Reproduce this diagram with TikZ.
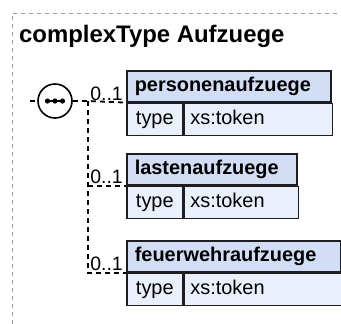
\documentclass[tikz,border=0pt]{standalone}
\usepackage{fontspec}
\setmainfont{Liberation Sans}
\usetikzlibrary{positioning,calc}
\definecolor{FrameGrey}{HTML}{9A9A9A}
\definecolor{HeadBlue}{HTML}{D1DEF5}
\definecolor{RowBlue}{HTML}{E9F0FB}
\definecolor{EdgeDark}{HTML}{1E1E1E}
\tikzset{head/.style={draw=EdgeDark,line width=1.6bp,fill=HeadBlue,anchor=north west,
 inner xsep=8bp,inner ysep=0pt,minimum height=31bp,text height=14.5bp,text depth=4bp,
 align=left,font=\fontsize{20}{22}\selectfont\bfseries},
 cell/.style={draw=EdgeDark,line width=1.6bp,fill=RowBlue,anchor=north west,
 inner xsep=6bp,inner ysep=0pt,minimum height=32bp,text height=14.5bp,text depth=4bp,
 align=left,font=\fontsize{20}{22}\selectfont},
 mult/.style={anchor=south east,inner sep=0pt,font=\fontsize{19.5}{21}\selectfont},
 link/.style={draw=black,line width=1.8bp,dash pattern=on 5bp off 4bp},
 frame/.style={draw=FrameGrey,line width=1bp,dash pattern=on 4bp off 4bp}}

\begin{document}
\begin{tikzpicture}[x=1bp,y=-1bp]
\useasboundingbox (0,0) rectangle (341,324);
% outer frame of the complex type, cut off at right and bottom
\draw[frame] (12,324)--(12,13)--(341,13);
\node[anchor=base west,inner sep=0pt,font=\fontsize{24}{26}\selectfont\bfseries] (ttl) at (19,42) {complexType Aufzuege};
% child elements: header row and type row
\node[head,text width=188bp] (ph) at (126,70) {personenaufzuege};
\node[cell,minimum width=56bp] (pt) at (ph.south west) {type};
\node[cell,text width=136bp] (pv) at (pt.north east) {xs:token};
\node[head,text width=154bp] (lh) at (126,153) {lastenaufzuege};
\node[cell,minimum width=56bp] (lt) at (lh.south west) {type};
\node[cell,text width=102bp] (lv) at (lt.north east) {xs:token};
\node[head,text width=198bp] (fh) at (126,240) {feuerwehraufzuege};
\node[cell,minimum width=56bp] (ft) at (fh.south west) {type};
\node[cell,text width=146bp] (fv) at (ft.north east) {xs:token};
% sequence compositor
\node[circle,draw=black,line width=1.6bp,fill=white,minimum size=34bp,inner sep=0pt] (seq) at (55,101) {};
\draw[line width=1.4bp] ($(seq.center)+(-10,0)$)--($(seq.center)+(10,0)$);
\foreach \d in {-7.5,0,7.5}
 \fill ($(seq.center)+(\d,0)$) circle (2.6bp);
\coordinate (lead) at (30,101);
\coordinate (fork) at (88,101);
\draw[link] (lead)--(seq.west);
\draw[link] (seq.east)--(fork)--(ph.south west);
\draw[link] (fork)|-(fh.south west);
\draw[link] (fork|-lh.south west)--(lh.south west);
\node[mult] (p01) at ($(ph.south west)+(-3,-2)$) {0..1};
\node[mult] (l01) at ($(lh.south west)+(-3,-2)$) {0..1};
\node[mult] (f01) at ($(fh.south west)+(-3,-2)$) {0..1};
\end{tikzpicture}
\end{document}
